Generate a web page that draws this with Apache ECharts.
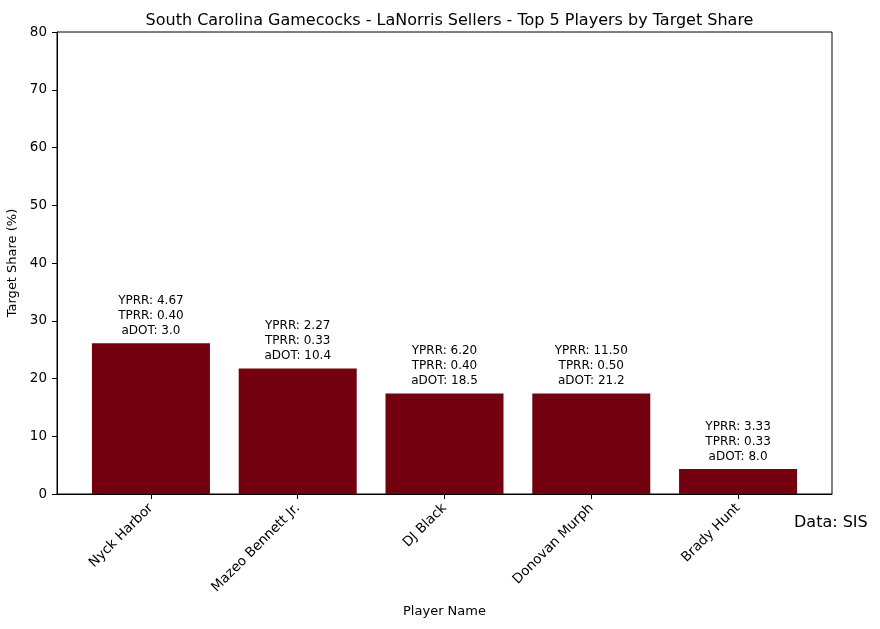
<!DOCTYPE html>
<html lang="en">
<head>
    <meta charset="UTF-8">
    <title>Top 5 Players by Target Share</title>
    <script src="https://cdn.jsdelivr.net/npm/echarts/dist/echarts.min.js"></script>
    <style>
        body { margin: 0; background: #fff; }
        #chart { width: 880px; height: 629px; }
    </style>
</head>
<body>
    <div id="chart"></div>
    <script type="text/javascript">
        // data
        var players = ['Nyck Harbor', 'Mazeo Bennett Jr.', 'DJ Black', 'Donovan Murph', 'Brady Hunt'];
        var targetShare = [26.09, 21.74, 17.39, 17.39, 4.35];
        var yprr = [4.67, 2.27, 6.20, 11.50, 3.33];
        var tprr = [0.40, 0.33, 0.40, 0.50, 0.33];
        var adot = [3.0, 10.4, 18.5, 21.2, 8.0];
        var yTicks = [0, 10, 20, 30, 40, 50, 60, 70, 80];

        var font = 'DejaVu Sans';
        var positions = players.map(function (p, i) { return i; });

        var chart = echarts.init(document.getElementById('chart'));
        chart.setOption({
            animation: false,
            textStyle: { fontFamily: font },
            title: [{
                text: 'South Carolina Gamecocks - LaNorris Sellers - Top 5 Players by Target Share',
                left: 444.5,
                textAlign: 'center',
                top: 8,
                textStyle: { fontFamily: font, fontSize: 16, fontWeight: 'normal', color: '#000' }
            }, {
                text: 'Data: SIS',
                left: 789,
                top: 510,
                textStyle: { fontFamily: font, fontSize: 16, fontWeight: 'normal', color: '#000' }
            }],
            grid: {
                left: 57, right: 48, top: 32, bottom: 135,
                outerBoundsMode: 'none',
                containLabel: false,
                show: true, borderColor: '#000', borderWidth: 1
            },
            xAxis: {
                type: 'value',
                min: -0.64,
                max: 4.64,
                name: 'Player Name',
                nameLocation: 'middle',
                nameGap: 111,
                nameTextStyle: { fontFamily: font, fontSize: 13, color: '#000' },
                splitLine: { show: false },
                axisLine: { show: true, onZero: false, lineStyle: { color: '#000' } },
                axisTick: { show: true, customValues: positions, length: 5, inside: false, lineStyle: { color: '#000' } },
                axisLabel: {
                    customValues: positions,
                    rotate: 45,
                    margin: 12,
                    fontFamily: font,
                    fontSize: 13.5,
                    color: '#000',
                    formatter: function (v) { return players[Math.round(v)]; }
                }
            },
            yAxis: {
                type: 'value',
                min: 0,
                max: 80,
                interval: 10,
                name: 'Target Share (%)',
                nameLocation: 'middle',
                nameGap: 35,
                nameTextStyle: { fontFamily: font, fontSize: 13, color: '#000' },
                splitLine: { show: false },
                axisLine: { show: true, onZero: false, lineStyle: { color: '#000' } },
                axisTick: { show: true, length: 5, lineStyle: { color: '#000' } },
                axisLabel: {
                    fontFamily: font, fontSize: 13.5, color: '#000', margin: 10,
                    formatter: function (v) { return yTicks.indexOf(v) >= 0 ? String(v) : ''; }
                }
            },
            series: [{
                type: 'bar',
                barWidth: 118,
                itemStyle: { color: '#72000f' },
                data: targetShare.map(function (v, i) { return [i, v]; }),
                label: {
                    show: true,
                    position: 'top',
                    distance: 5,
                    fontFamily: font,
                    fontSize: 12,
                    lineHeight: 15,
                    color: '#000',
                    align: 'center',
                    formatter: function (p) {
                        var i = p.dataIndex;
                        return 'YPRR: ' + yprr[i].toFixed(2) + '\nTPRR: ' + tprr[i].toFixed(2) +
                            '\naDOT: ' + adot[i].toFixed(1);
                    }
                }
            }]
        });
    </script>
</body>
</html>
